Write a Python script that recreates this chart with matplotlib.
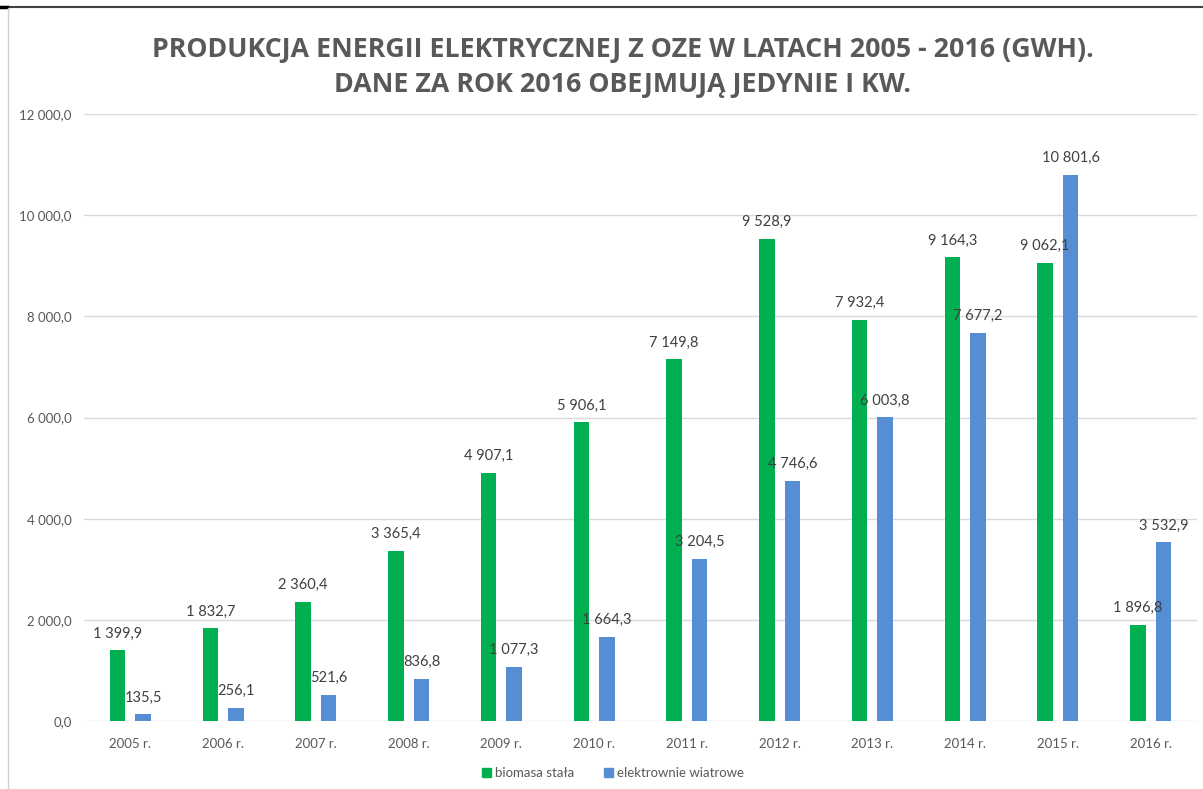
import matplotlib
matplotlib.use('Agg')
import matplotlib.pyplot as plt
from matplotlib.lines import Line2D
from matplotlib.patches import Patch
import numpy as np

# ----- DATA -----
years = ['2005 r.', '2006 r.', '2007 r.', '2008 r.', '2009 r.', '2010 r.',
         '2011 r.', '2012 r.', '2013 r.', '2014 r.', '2015 r.', '2016 r.']
biomasa = [1399.9, 1832.7, 2360.4, 3365.4, 4907.1, 5906.1,
           7149.8, 9528.9, 7932.4, 9164.3, 9062.1, 1896.8]
wiatr = [135.5, 256.1, 521.6, 836.8, 1077.3, 1664.3,
         3204.5, 4746.6, 6003.8, 7677.2, 10801.6, 3532.9]
series_names = ['biomasa stała', 'elektrownie wiatrowe']
y_ticks = [0, 2000, 4000, 6000, 8000, 10000, 12000]
title_lines = ['PRODUKCJA ENERGII ELEKTRYCZNEJ Z OZE W LATACH 2005 - 2016 (GWH).',
               'DANE ZA ROK 2016 OBEJMUJĄ JEDYNIE I KW.']

GREEN = '#00B050'
BLUE = '#558ED5'
GRAY_TXT = '#595959'


def pl_fmt(v):
    s = f'{v:,.1f}'
    return s.replace(',', ' ').replace('.', ',')


W, H = 1203, 789
fig = plt.figure(figsize=(W / 100, H / 100), dpi=100)

# frame lines around the chart object
fig.add_artist(Line2D([0, 1], [1 - 7 / H, 1 - 7 / H], color='#404040', lw=1.5))
fig.add_artist(Line2D([0, 7 / W], [1 - 7 / H, 1 - 7 / H], color='black', lw=2.5))
fig.add_artist(Line2D([8 / W, 8 / W], [0, 1 - 8 / H], color='#D0D0D0', lw=1))

ax = fig.add_axes([84 / W, 68 / H, (1197 - 84) / W, (721 - 114) / H])

x = np.arange(len(years))
bw = 0.165
off = 0.1375
b1 = ax.bar(x - off, biomasa, bw, color=GREEN)
b2 = ax.bar(x + off, wiatr, bw, color=BLUE)

for bars, vals in ((b1, biomasa), (b2, wiatr)):
    for r, v in zip(bars, vals):
        ax.annotate(pl_fmt(v), (r.get_x() + r.get_width() / 2, v),
                    xytext=(0, 7), textcoords='offset points',
                    ha='center', va='bottom', fontsize=10.5,
                    family='Lato', color='#404040')

ax.set_xlim(-0.5, len(years) - 0.5)
ax.set_ylim(0, 12000)
ax.set_yticks(y_ticks)
ax.set_yticklabels([pl_fmt(t) for t in y_ticks], family='Lato',
                   fontsize=9.5, color=GRAY_TXT)
ax.set_xticks(x)
ax.set_xticklabels(years, family='Lato', fontsize=9.5, color=GRAY_TXT)
ax.tick_params(length=0, pad=9, axis='y')
ax.tick_params(length=0, pad=12, axis='x')
ax.grid(axis='y', color='#D9D9D9', lw=1)
ax.set_axisbelow(True)
for s in ax.spines.values():
    s.set_visible(False)

# title, two centred lines
for line, base in zip(title_lines, (57, 92)):
    fig.text(623 / W, 1 - base / H, line, ha='center', va='baseline',
             fontsize=19.3, fontweight='bold', family='Open Sans', color=GRAY_TXT)

handles = [Patch(color=GREEN), Patch(color=BLUE)]
fig.legend(handles, series_names, loc='center', bbox_to_anchor=(613 / W, 1 - 773 / H),
           ncol=2, frameon=False, prop={'family': 'Lato', 'size': 9.5},
           handlelength=0.7, handleheight=0.7, handletextpad=0.3,
           columnspacing=2.2, labelcolor=GRAY_TXT)

fig.savefig('out.png', dpi=100)
